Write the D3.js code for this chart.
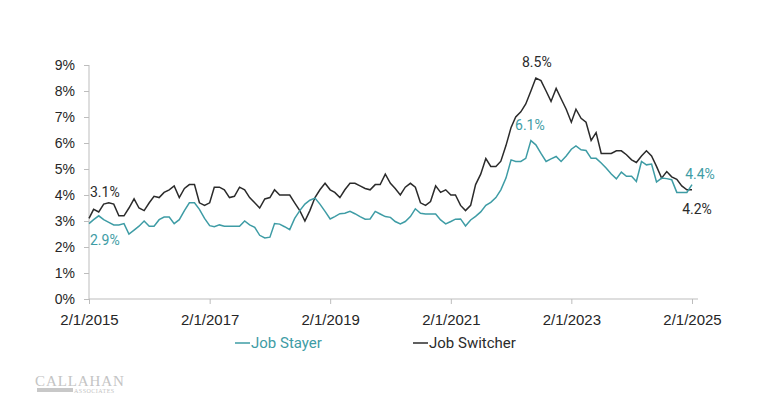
<!DOCTYPE html>
<html>
<head>
<meta charset="utf-8">
<script src="https://cdn.jsdelivr.net/npm/d3@7"></script>
<style>
  body { margin: 0; background: #fff; }
  svg { display: block; font-family: Roboto, "Noto Sans", sans-serif; }
</style>
</head>
<body>
<svg id="chart" width="768" height="407"></svg>
<script>
// monthly wage growth, 2/1/2015 .. 2/1/2025 (3-month moving average, %)
var stayer = [
  2.9, 3.05, 3.2, 3.05, 2.95, 2.85, 2.85, 2.9, 2.5, 2.65, 2.8, 3.0, 2.8, 2.8, 3.05, 3.15, 3.15, 2.9, 3.05, 3.4, 3.7,
  3.7, 3.45, 3.1, 2.82, 2.78, 2.85, 2.8, 2.8, 2.8, 2.8,
  3.0, 2.85, 2.76, 2.45, 2.35, 2.38, 2.9, 2.88, 2.78, 2.67,
  3.1, 3.4, 3.65, 3.8, 3.88, 3.65, 3.37, 3.08, 3.17, 3.28,
  3.3, 3.37, 3.28, 3.17, 3.07, 3.08, 3.37, 3.27, 3.17, 3.14,
  2.98, 2.89, 2.98, 3.17, 3.47, 3.3, 3.27, 3.27, 3.27, 3.04,
  2.89, 2.98, 3.07, 3.08, 2.81, 3.04, 3.18, 3.35, 3.6, 3.72,
  3.9, 4.2, 4.65, 5.35, 5.29, 5.29, 5.41, 6.09, 5.93, 5.6,
  5.29, 5.39, 5.48, 5.29, 5.5, 5.76, 5.89, 5.74, 5.71, 5.41,
  5.41, 5.23, 5.03, 4.81, 4.62, 4.88, 4.72, 4.72, 4.52, 5.29,
  5.16, 5.19, 4.5, 4.65, 4.63, 4.59, 4.1, 4.1, 4.1, 4.4
];
var switcher = [
  3.1, 3.45, 3.35, 3.65, 3.7, 3.65, 3.2, 3.2, 3.5, 3.85, 3.5, 3.4, 3.7, 3.95, 3.9, 4.1, 4.2, 4.35, 3.9, 4.25, 4.4,
  4.4, 3.7, 3.6, 3.7, 4.3, 4.3, 4.2, 3.9, 3.95, 4.3,
  4.2, 3.9, 3.7, 3.5, 3.85, 3.9, 4.2, 4.0, 4.0, 4.0,
  3.7, 3.4, 3.0, 3.4, 3.9, 4.2, 4.45, 4.2, 4.1, 3.9,
  4.2, 4.45, 4.45, 4.35, 4.25, 4.2, 4.4, 4.4, 4.8, 4.45,
  4.25, 4.0, 4.3, 4.45, 4.3, 3.7, 3.6, 3.75, 4.35, 4.1,
  4.2, 4.0, 4.0, 3.6, 3.4, 3.6, 4.4, 4.8, 5.4, 5.1,
  5.1, 5.3, 5.9, 6.6, 7.0, 7.2, 7.5, 8.0, 8.5, 8.4,
  8.0, 7.6, 8.1, 7.7, 7.3, 6.8, 7.3, 6.95, 6.8, 6.1,
  6.4, 5.6, 5.6, 5.6, 5.7, 5.7, 5.55, 5.35, 5.25, 5.5,
  5.7, 5.5, 5.1, 4.65, 4.9, 4.7, 4.6, 4.35, 4.2, 4.2
];
var xTickLabels = ["2/1/2015", "2/1/2017", "2/1/2019", "2/1/2021", "2/1/2023", "2/1/2025"];
var yTicks = [0, 1, 2, 3, 4, 5, 6, 7, 8, 9];
var seriesNames = ["Job Stayer", "Job Switcher"];

var teal = "#3e9ca5";
var dark = "#2b2b2b";
var axisGray = "#bdbdbd";

var svg = d3.select("#chart");
var margin = { left: 89, right: 76, top: 65, bottom: 108 };
var width = 768 - margin.left - margin.right;
var height = 407 - margin.top - margin.bottom;

var g = svg.append("g").attr("transform", "translate(" + margin.left + "," + margin.top + ")");

var parse = d3.timeParse("%m/%d/%Y");
var start = parse("2/1/2015");
var dates = d3.range(stayer.length).map(i => d3.timeMonth.offset(start, i));

var x = d3.scaleTime().domain([start, parse("2/1/2025")]).range([0, 603]);
var y = d3.scaleLinear().domain([0, 9]).range([height, 0]);

// y axis
var yAxis = g.append("g")
  .call(d3.axisLeft(y).tickValues(yTicks).tickSize(5).tickPadding(9).tickFormat(d => d + "%"));
yAxis.select(".domain").attr("stroke", axisGray).attr("d", "M0," + height + "V0");
yAxis.selectAll(".tick line").attr("stroke", axisGray);
yAxis.selectAll("text").attr("fill", "#262626").style("font-size", "14px");

// x axis
var xAxis = g.append("g").attr("transform", "translate(0," + height + ")")
  .call(d3.axisBottom(x).tickValues(xTickLabels.map(parse)).tickSize(5).tickPadding(10)
    .tickFormat(d => d3.timeFormat("%-m/%-d/%Y")(d)));
xAxis.select(".domain").attr("stroke", axisGray).attr("d", "M0,0H609");
xAxis.selectAll(".tick line").attr("stroke", axisGray);
xAxis.selectAll("text").attr("fill", "#262626").style("font-size", "15px");

var line = d3.line().x((d, i) => x(dates[i])).y(d => y(d));

g.append("path").datum(switcher).attr("fill", "none")
  .attr("stroke", dark).attr("stroke-width", 1.5).attr("d", line);
g.append("path").datum(stayer).attr("fill", "none")
  .attr("stroke", teal).attr("stroke-width", 1.5).attr("d", line);

// value labels
var last = stayer.length - 1;
var peakSw = switcher.indexOf(d3.max(switcher));
var peakSt = stayer.indexOf(d3.max(stayer));
var labels = [
  { t: switcher[0].toFixed(1) + "%", x: x(dates[0]) + 1, y: y(switcher[0]) - 21, c: dark, a: "start" },
  { t: stayer[0].toFixed(1) + "%", x: x(dates[0]) + 1, y: y(stayer[0]) + 21, c: teal, a: "start" },
  { t: switcher[peakSw].toFixed(1) + "%", x: x(dates[peakSw]) + 1, y: y(switcher[peakSw]) - 11, c: dark, a: "middle" },
  { t: stayer[peakSt].toFixed(1) + "%", x: x(dates[peakSt]) - 1, y: y(stayer[peakSt]) - 11, c: teal, a: "middle" },
  { t: stayer[last].toFixed(1) + "%", x: x(dates[last]) + 8, y: y(stayer[last]) - 6, c: teal, a: "middle" },
  { t: switcher[last].toFixed(1) + "%", x: x(dates[last]) + 5, y: y(switcher[last]) + 24, c: dark, a: "middle" }
];
g.selectAll(".vlabel").data(labels).join("text")
  .attr("class", "vlabel")
  .attr("x", d => d.x).attr("y", d => d.y)
  .attr("text-anchor", d => d.a)
  .attr("fill", d => d.c)
  .style("font-size", "14px")
  .text(d => d.t);

// legend
var legend = svg.append("g").attr("transform", "translate(235,343)");
var items = [{ name: seriesNames[0], c: teal, x: 0 }, { name: seriesNames[1], c: dark, x: 178 }];
var li = legend.selectAll("g").data(items).join("g").attr("transform", d => "translate(" + d.x + ",0)");
li.append("line").attr("x1", 0).attr("x2", 15).attr("y1", 0).attr("y2", 0)
  .attr("stroke", d => d.c).attr("stroke-width", 1.5);
li.append("text").attr("x", 16).attr("y", 5).attr("fill", d => d.c)
  .style("font-size", "15px").text(d => d.name);

// logo
var logo = svg.append("g").attr("transform", "translate(35,0)");
logo.append("text").attr("x", 0).attr("y", 386)
  .attr("fill", "#c4c4c4")
  .style("font-family", "'Liberation Serif', 'DejaVu Serif', serif")
  .style("font-size", "15px").style("letter-spacing", "0.9px")
  .text("CALLAHAN");
logo.append("rect").attr("x", 2).attr("y", 388).attr("width", 36).attr("height", 4).attr("fill", "#c8c8c8");
logo.append("text").attr("x", 39).attr("y", 392.5)
  .attr("fill", "#c4c4c4")
  .style("font-family", "'Liberation Serif', 'DejaVu Serif', serif")
  .style("font-size", "6px").style("letter-spacing", "0.5px")
  .text("ASSOCIATES");
</script>
</body>
</html>
